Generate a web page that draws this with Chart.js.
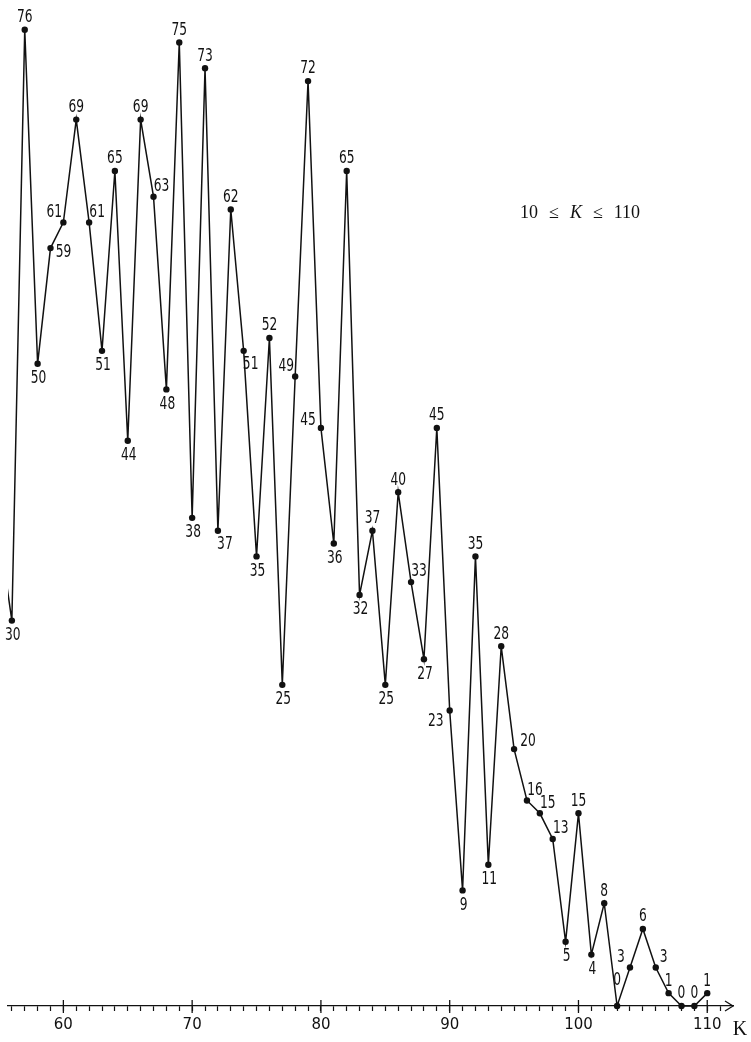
<!DOCTYPE html>
<html>
<head>
<meta charset="utf-8">
<script src="https://cdn.jsdelivr.net/npm/chart.js@4/dist/chart.umd.min.js"></script>
<style>
  html, body { margin: 0; padding: 0; background: #fff; }
  #wrap { width: 751px; height: 1042px; }
</style>
</head>
<body>
<div id="wrap"><canvas id="chart"></canvas></div>
<script>
// K values and the count at each K (55 only shows as a stub at the left edge)
const kValues = [55, 56, 57, 58, 59, 60, 61, 62, 63, 64, 65, 66, 67, 68, 69, 70,
  71, 72, 73, 74, 75, 76, 77, 78, 79, 80, 81, 82, 83, 84, 85, 86, 87, 88, 89, 90,
  91, 92, 93, 94, 95, 96, 97, 98, 99, 100, 101, 102, 103, 104, 105, 106, 107, 108, 109, 110];
const counts = [37, 30, 76, 50, 59, 61, 69, 61, 51, 65, 44, 69, 63, 48, 75, 38,
  73, 37, 62, 51, 35, 52, 25, 49, 72, 45, 36, 65, 32, 37, 25, 40, 33, 27, 45, 23,
  9, 35, 11, 28, 20, 16, 15, 13, 5, 15, 4, 8, 0, 3, 6, 3, 1, 0, 0, 1];
const majorTicks = [60, 70, 80, 90, 100, 110];

// where each value label sits around its point
const labelSpots = [null, 'b', 'a', 'b', 'r', 'al', 'a', 'ar', 'b', 'a', 'b', 'a', 'ar', 'b', 'a', 'b',
  'a', 'br', 'a', 'br', 'b', 'a', 'b', 'al', 'a', 'l', 'b', 'a', 'b', 'a', 'b', 'a', 'ar', 'b', 'a', 'bl',
  'b', 'a', 'b', 'a', 'ra', 'ar', 'ar', 'ar', 'b', 'a', 'b', 'a', 'a2', 'al', 'a', 'ar', 'a', 'a', 'a', 'a'];
const spotOffsets = {
  a: [0, -12], b: [1, 15], r: [13, 5], l: [-13, -7], ar: [8, -10], al: [-9, -10],
  br: [7, 14], bl: [-14, 11], ra: [14, -7], a2: [0, -25]
};

const ink = '#111';

const decorations = {
  id: 'decorations',
  afterDatasetsDraw(chart) {
    const { ctx, chartArea, scales: { x, y } } = chart;
    const meta = chart.getDatasetMeta(0);
    ctx.save();
    ctx.fillStyle = ink;
    ctx.strokeStyle = ink;

    // value labels, squeezed a bit to look like the narrow lettering
    ctx.font = '17px "DejaVu Sans Condensed", "DejaVu Sans", sans-serif';
    ctx.textAlign = 'center';
    ctx.textBaseline = 'middle';
    meta.data.forEach((pt, i) => {
      const spot = labelSpots[i];
      if (!spot) return;
      const [dx, dy] = spotOffsets[spot];
      ctx.save();
      ctx.translate(pt.x + dx, pt.y + dy);
      ctx.scale(0.8, 1);
      ctx.fillText(String(counts[i]), 0, 0);
      ctx.restore();
    });

    // major ticks cross the axis
    const axisY = y.getPixelForValue(0);
    ctx.lineWidth = 1.3;
    majorTicks.forEach(v => {
      const px = x.getPixelForValue(v);
      ctx.beginPath();
      ctx.moveTo(px, axisY - 6);
      ctx.lineTo(px, axisY + 7);
      ctx.stroke();
    });

    // arrow head at the end of the axis
    const tip = chartArea.right;
    ctx.beginPath();
    ctx.moveTo(tip - 8, axisY - 5);
    ctx.lineTo(tip, axisY);
    ctx.lineTo(tip - 8, axisY + 5);
    ctx.stroke();

    // axis name
    ctx.font = '20px "Liberation Serif", serif';
    ctx.fillText('K', tip + 7, axisY + 24);

    // range note
    const parts = [['10', ''], ['\u2264', ''], ['K', 'italic '], ['\u2264', ''], ['110', '']];
    let tx = 520;
    ctx.textAlign = 'left';
    parts.forEach(([s, style]) => {
      ctx.font = style + '18px "Liberation Serif", serif';
      ctx.fillText(s, tx, 213);
      tx += ctx.measureText(s).width + 11;
    });
    ctx.restore();
  }
};

new Chart(document.getElementById('chart'), {
  type: 'line',
  data: {
    datasets: [{
      data: kValues.map((k, i) => ({ x: k, y: counts[i] })),
      borderColor: ink,
      borderWidth: 1.5,
      pointRadius: 3.2,
      pointBackgroundColor: ink,
      pointBorderWidth: 0,
      tension: 0,
      clip: { left: 0, top: 10, right: 10, bottom: 6 }
    }]
  },
  options: {
    responsive: true,
    maintainAspectRatio: false,
    animation: false,
    layout: { padding: { left: 8, right: 18, top: 0, bottom: 0 } },
    plugins: { legend: { display: false }, tooltip: { enabled: false } },
    scales: {
      x: {
        type: 'linear',
        min: 55.7,
        max: 112,
        afterFit: s => { s.height = 36; },
        border: { color: ink, width: 1.3 },
        grid: {
          drawOnChartArea: false,
          tickLength: 5,
          tickWidth: 1.2,
          tickColor: c => (c.tick && c.tick.value > 111 ? 'rgba(0,0,0,0)' : ink)
        },
        ticks: {
          stepSize: 1,
          includeBounds: false,
          autoSkip: false,
          maxRotation: 0,
          padding: 5,
          color: ink,
          font: { family: 'DejaVu Sans', size: 15 },
          callback: v => (v % 10 === 0 ? String(v) : '')
        }
      },
      y: { display: false, min: 0, max: 78 }
    }
  },
  plugins: [decorations]
});
</script>
</body>
</html>
